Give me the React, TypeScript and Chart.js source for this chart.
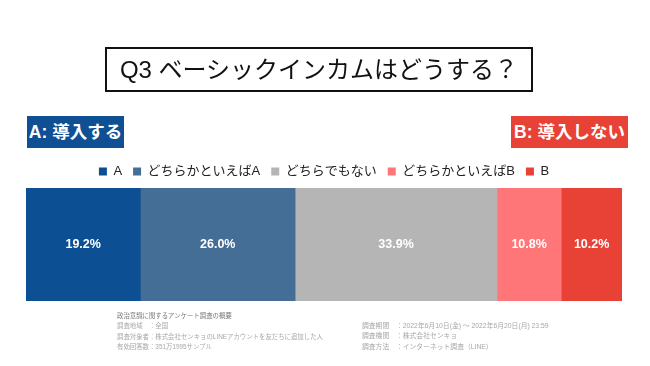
import React, { useEffect, useRef } from "react";
import { Chart, registerables } from "chart.js";
Chart.register(...registerables);

const categories = ["Q3 ベーシックインカムはどうする？"];
const seriesLabels = ["A", "どちらかといえばA", "どちらでもない", "どちらかといえばB", "B"];
const seriesValues = [19.2, 26.0, 33.9, 10.8, 10.2];
const seriesColors = ["#0d4f93", "#456e96", "#b5b5b5", "#fe7677", "#e84236"];
const titleText = "Q3 ベーシックインカムはどうする？";
const sideA = "A: 導入する";
const sideB = "B: 導入しない";
const notesLeft = [
  "政治意識に関するアンケート調査の概要",
  "調査地域　：全国",
  "調査対象者：株式会社センキョのLINEアカウントを友だちに追加した人",
  "有効回答数：351万1995サンプル",
];
const notesRight = [
  "調査期間　：2022年6月10日(金) 〜 2022年6月20日(月) 23:59",
  "調査機関　：株式会社センキョ",
  "調査方法　：インターネット調査（LINE）",
];

const FONT = "'Liberation Sans', 'Noto Sans CJK JP', sans-serif";

const valueLabels = {
  id: "valueLabels",
  afterDatasetsDraw(chart: any) {
    const ctx = chart.ctx;
    ctx.save();
    ctx.fillStyle = "#ffffff";
    ctx.font = "bold 12.5px " + FONT;
    ctx.textAlign = "center";
    ctx.textBaseline = "middle";
    chart.data.datasets.forEach((ds: any, i: number) => {
      const meta = chart.getDatasetMeta(i);
      meta.data.forEach((el: any, j: number) => {
        const v = ds.data[j];
        const cx = (el.x + el.base) / 2;
        ctx.fillText(v.toFixed(1) + "%", cx, el.y);
      });
    });
    ctx.restore();
  },
};

export default function App() {
  const ref = useRef<HTMLCanvasElement>(null);
  useEffect(() => {
    const total = seriesValues.reduce((a, b) => a + b, 0);
    const chart = new Chart(ref.current!, {
      type: "bar",
      data: {
        labels: categories,
        datasets: seriesLabels.map((l, i) => ({
          label: l,
          data: [seriesValues[i]],
          backgroundColor: seriesColors[i],
          borderWidth: 0,
          barPercentage: 1,
          categoryPercentage: 1,
        })),
      },
      options: {
        indexAxis: "y",
        responsive: false,
        animation: false,
        layout: { padding: { left: 26, right: 28, top: 154, bottom: 65 } },
        scales: {
          x: { stacked: true, display: false, min: 0, max: total },
          y: { stacked: true, display: false },
        },
        plugins: {
          legend: {
            position: "top",
            labels: {
              boxWidth: 8,
              boxHeight: 8,
              padding: 11,
              color: "#222",
              font: { size: 13, family: FONT },
            },
          },
          tooltip: { enabled: false },
        },
      },
      plugins: [valueLabels],
    } as any);
    return () => chart.destroy();
  }, []);

  const noteStyle: React.CSSProperties = {
    position: "absolute",
    fontFamily: FONT,
    fontSize: "6.4px",
    lineHeight: "10.4px",
    color: "#a8a8a8",
    whiteSpace: "nowrap",
  };

  return (
    <div style={{ position: "fixed", left: 0, top: 0, width: 650, height: 366, background: "#fff", overflow: "hidden" }}>
      <canvas ref={ref} width={650} height={366} style={{ position: "absolute", left: 0, top: 0, width: 650, height: 366 }} />
      <div
        style={{
          position: "absolute", left: 105, top: 47, width: 428, height: 45, boxSizing: "border-box",
          border: "2px solid #111", fontFamily: FONT, fontSize: 24, lineHeight: "41px", textAlign: "center", color: "#111",
          whiteSpace: "nowrap",
        }}
      >
        {titleText}
      </div>
      <div
        style={{
          position: "absolute", left: 27, top: 116, width: 97, height: 32, background: "#0f4f94", color: "#fff",
          fontFamily: FONT, fontWeight: "bold", fontSize: 17.5, lineHeight: "32px", textAlign: "center", whiteSpace: "nowrap",
        }}
      >
        {sideA}
      </div>
      <div
        style={{
          position: "absolute", left: 511, top: 116, width: 117, height: 32, background: "#e84236", color: "#fff",
          fontFamily: FONT, fontWeight: "bold", fontSize: 17.5, lineHeight: "32px", textAlign: "center", whiteSpace: "nowrap",
        }}
      >
        {sideB}
      </div>
      <div style={{ ...noteStyle, left: 117, top: 311 }}>
        {notesLeft.map((t, i) => (
          <div key={i} style={{ color: i === 0 ? "#777" : "#a8a8a8" }}>{t}</div>
        ))}
      </div>
      <div style={{ ...noteStyle, left: 362, top: 321, fontSize: "6.8px" }}>
        {notesRight.map((t, i) => (
          <div key={i}>{t}</div>
        ))}
      </div>
    </div>
  );
}
